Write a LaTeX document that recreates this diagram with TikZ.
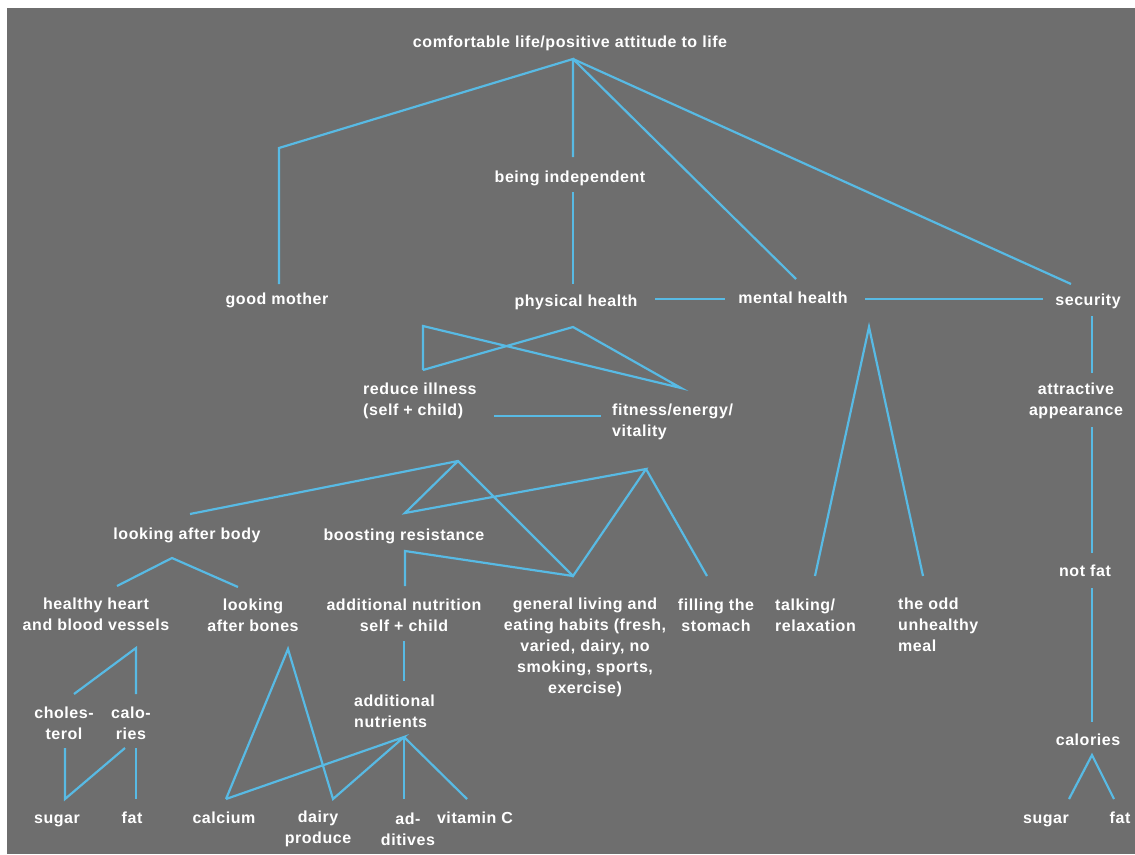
\documentclass[tikz,border=0pt]{standalone}
\usepackage{fontspec}
\setmainfont{Liberation Sans}[LetterSpace=3.5]
\definecolor{bg}{RGB}{110,110,110}
\definecolor{ln}{RGB}{88,186,228}
\begin{document}
\begin{tikzpicture}[x=1pt,y=-1pt,
  lbl/.style={text=white,font=\bfseries\fontsize{16}{21}\selectfont,inner sep=0pt,align=center},
  one/.style={lbl,anchor=base},
  lk/.style={draw=ln,line width=2.2pt,line join=miter}]
\useasboundingbox (0,0) rectangle (1135,854);
\fill[white] (0,0) rectangle (1135,854);
\fill[bg] (7,8) rectangle (1135,854);
% labels
\node[one] (root) at (570,47) {comfortable life/positive attitude to life};
\node[one] (indep) at (570,182) {being independent};
\node[one] (mother) at (277,304) {good mother};
\node[one] (phys) at (576,306) {physical health};
\node[one] (ment) at (793,303) {mental health};
\node[one] (secu) at (1088,305) {security};
\node[lbl,align=left,anchor=west] (illness) at (363,401) {reduce illness\\(self + child)};
\node[lbl,align=left,anchor=west] (fit) at (612,422) {fitness/energy/\\vitality};
\node[lbl] (attr) at (1076,401) {attractive\\appearance};
\node[one] (body) at (187,539) {looking after body};
\node[one] (resist) at (404,540) {boosting resistance};
\node[lbl] (heart) at (96,614) {healthy heart\\and blood vessels};
\node[lbl] (bones) at (253,615) {looking\\after bones};
\node[lbl] (addnut) at (404,615) {additional nutrition\\self + child};
\node[lbl] (habits) at (585,647) {general living and\\eating habits (fresh,\\varied, dairy, no\\smoking, sports,\\exercise)};
\node[lbl] (stomach) at (716,615) {filling the\\stomach};
\node[lbl,align=left,anchor=west] (talk) at (775,615) {talking/\\relaxation};
\node[lbl,align=left,anchor=west] (odd) at (898,625) {the odd\\unhealthy\\meal};
\node[one] (notfat) at (1085,576) {not fat};
\node[lbl] (chol) at (64,723) {choles-\\terol};
\node[lbl] (calo) at (131,723) {calo-\\ries};
\node[lbl,align=left,anchor=west] (nutrients) at (354,711) {additional\\nutrients};
\node[one] (calr) at (1088,745) {calories};
\node[one] (sug1) at (57,823) {sugar};
\node[one] (fat1) at (132,823) {fat};
\node[one] (calc) at (224,823) {calcium};
\node[lbl] (dairy) at (318,829) {dairy\\produce};
\node[lbl] (addit) at (408,829) {ad-\\ditives};
\node[one] (vitc) at (475,823) {vitamin C};
\node[one] (sug2) at (1046,823) {sugar};
\node[one] (fat2) at (1120,823) {fat};
% junction coordinates
\coordinate (r0) at (573,59);
\coordinate (gm1) at (279,148); \coordinate (gm2) at (279,284);
\coordinate (bi1) at (573,157);
\coordinate (mh1) at (796,279);
\coordinate (se1) at (1071,284);
\coordinate (bi2) at (573,192); \coordinate (ph1) at (573,284);
\coordinate (phr) at (655,299); \coordinate (mhl) at (725,299);
\coordinate (mhr) at (865,299); \coordinate (sel) at (1043,299);
\coordinate (se2) at (1092,316); \coordinate (at1) at (1092,373);
\coordinate (at2) at (1092,427); \coordinate (nf1) at (1092,553);
\coordinate (nf2) at (1092,588); \coordinate (ca1) at (1092,722);
\coordinate (ca2) at (1092,755); \coordinate (sg2) at (1069,799); \coordinate (ft2) at (1114,799);
\coordinate (mapex) at (869,327); \coordinate (tk) at (815,576); \coordinate (od) at (923,576);
\coordinate (papex) at (573,327); \coordinate (ri1) at (423,370); \coordinate (fe1) at (681,388); \coordinate (ri2) at (423,326);
\coordinate (ri3) at (494,416); \coordinate (fe2) at (601,416);
\coordinate (A1) at (458,461); \coordinate (lab) at (190,514); \coordinate (br1) at (405,513); \coordinate (gl) at (573,576);
\coordinate (A2) at (646,469); \coordinate (fs) at (707,576);
\coordinate (br2) at (405,551); \coordinate (an1) at (405,586);
\coordinate (lb) at (172,558); \coordinate (hh) at (117,586); \coordinate (lbb) at (238,587);
\coordinate (hha) at (136,648); \coordinate (ch1) at (74,694); \coordinate (cl1) at (136,694);
\coordinate (ch2) at (65,748); \coordinate (sg1) at (65,799); \coordinate (cl2) at (125,748);
\coordinate (cl3) at (136,748); \coordinate (ft1) at (136,799);
\coordinate (bon) at (288,649); \coordinate (cc) at (226,799); \coordinate (dp) at (333,799);
\coordinate (na) at (404,737); \coordinate (ad) at (404,799); \coordinate (vc) at (467,799);
\coordinate (an2) at (404,641); \coordinate (na1) at (404,681);
% connectors
\draw[lk] (gm2) -- (gm1) -- (r0) -- (bi1);
\draw[lk] (r0) -- (mh1);
\draw[lk] (r0) -- (se1);
\draw[lk] (bi2) -- (ph1);
\draw[lk] (phr) -- (mhl);
\draw[lk] (mhr) -- (sel);
\draw[lk] (se2) -- (at1);
\draw[lk] (at2) -- (nf1);
\draw[lk] (nf2) -- (ca1);
\draw[lk] (sg2) -- (ca2) -- (ft2);
\draw[lk] (tk) -- (mapex) -- (od);
\draw[lk] (ri1) -- (papex) -- (fe1) -- (ri2) -- (ri1);
\draw[lk] (ri3) -- (fe2);
\draw[lk] (lab) -- (A1) -- (gl) -- (A2) -- (br1) -- (A1);
\draw[lk] (A2) -- (fs);
\draw[lk] (an1) -- (br2) -- (gl);
\draw[lk] (hh) -- (lb) -- (lbb);
\draw[lk] (ch1) -- (hha) -- (cl1);
\draw[lk] (ch2) -- (sg1) -- (cl2);
\draw[lk] (cl3) -- (ft1);
\draw[lk] (cc) -- (bon) -- (dp) -- (na) -- (cc);
\draw[lk] (na) -- (ad);
\draw[lk] (na) -- (vc);
\draw[lk] (an2) -- (na1);
\end{tikzpicture}
\end{document}
